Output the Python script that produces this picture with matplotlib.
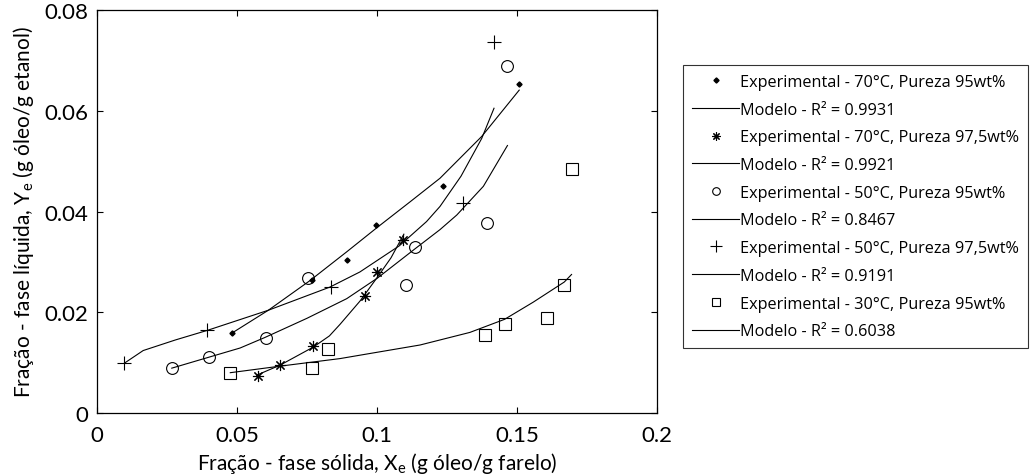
import numpy as np
import matplotlib.pyplot as plt
from matplotlib.lines import Line2D

plt.rcParams['font.family'] = ['Lato', 'DejaVu Sans']
plt.rcParams['mathtext.default'] = 'regular'

# experimental points
x70_95 = [0.0483, 0.0769, 0.0892, 0.0995, 0.1235, 0.1508]
y70_95 = [0.0159, 0.0265, 0.0303, 0.0374, 0.0450, 0.0653]

x70_975 = [0.0574, 0.0654, 0.0770, 0.0958, 0.1001, 0.1094]
y70_975 = [0.0074, 0.0096, 0.0132, 0.0232, 0.0280, 0.0343]

x50_95 = [0.0267, 0.0401, 0.0602, 0.0755, 0.1104, 0.1137, 0.1394, 0.1466]
y50_95 = [0.0089, 0.0112, 0.0149, 0.0267, 0.0255, 0.0330, 0.0378, 0.0689]

x50_975 = [0.0098, 0.0394, 0.0835, 0.1308, 0.1419]
y50_975 = [0.0099, 0.0165, 0.0251, 0.0417, 0.0736]

x30_95 = [0.0476, 0.0769, 0.0825, 0.1387, 0.1456, 0.1606, 0.1669, 0.1696]
y30_95 = [0.0080, 0.0089, 0.0127, 0.0155, 0.0177, 0.0189, 0.0255, 0.0484]

# model curves
mx70_95 = [0.0483, 0.0612, 0.0761, 0.0892, 0.1000, 0.1120, 0.1225, 0.1374, 0.1508]
my70_95 = [0.0159, 0.0204, 0.0263, 0.0320, 0.0368, 0.0420, 0.0466, 0.0549, 0.0641]

mx70_975 = [0.0570, 0.0654, 0.0773, 0.0830, 0.0868, 0.0939, 0.1002, 0.1050, 0.1096]
my70_975 = [0.0075, 0.0095, 0.0131, 0.0153, 0.0176, 0.0222, 0.0270, 0.0308, 0.0355]

mx50_95 = [0.0267, 0.0401, 0.0511, 0.0600, 0.0750, 0.0892, 0.1002, 0.1136, 0.1225, 0.1285, 0.1380, 0.1466]
my50_95 = [0.0089, 0.0111, 0.0129, 0.0150, 0.0188, 0.0227, 0.0268, 0.0326, 0.0364, 0.0393, 0.0450, 0.0531]

mx50_975 = [0.0098, 0.0165, 0.0280, 0.0394, 0.0612, 0.0832, 0.0939, 0.1080, 0.1177, 0.1225, 0.1300, 0.1374, 0.1418]
my50_975 = [0.0099, 0.0124, 0.0145, 0.0164, 0.0204, 0.0250, 0.0280, 0.0332, 0.0380, 0.0410, 0.0470, 0.0545, 0.0605]

mx30_95 = [0.0476, 0.0654, 0.0868, 0.0963, 0.1154, 0.1332, 0.1456, 0.1558, 0.1669, 0.1695]
my30_95 = [0.0080, 0.0093, 0.0108, 0.0117, 0.0135, 0.0160, 0.0186, 0.0220, 0.0260, 0.0275]

labels = ['Experimental - 70°C, Pureza 95wt%', 'Modelo - R² = 0.9931',
          'Experimental - 70°C, Pureza 97,5wt%', 'Modelo - R² = 0.9921',
          'Experimental - 50°C, Pureza 95wt%', 'Modelo - R² = 0.8467',
          'Experimental - 50°C, Pureza 97,5wt%', 'Modelo - R² = 0.9191',
          'Experimental - 30°C, Pureza 95wt%', 'Modelo - R² = 0.6038']

fig = plt.figure(figsize=(10.31, 4.77), dpi=100)
ax = fig.add_axes([0.0941, 0.1321, 0.5431, 0.8448])

lw = 0.8
mk = dict(color='k', linestyle='none', markerfacecolor='none', markeredgewidth=0.8)
ax.plot(x70_95, y70_95, marker='D', markersize=2.6, color='k', linestyle='none')
ax.plot(mx70_95, my70_95, 'k-', lw=lw)
ax.plot(x70_975, y70_975, marker=(8, 2, 0), markersize=8, **mk)
ax.plot(mx70_975, my70_975, 'k-', lw=lw)
ax.plot(x50_95, y50_95, marker='o', markersize=8.5, **mk)
ax.plot(mx50_95, my50_95, 'k-', lw=lw)
ax.plot(x50_975, y50_975, marker='+', markersize=10, **mk)
ax.plot(mx50_975, my50_975, 'k-', lw=lw)
ax.plot(x30_95, y30_95, marker='s', markersize=8.5, **mk)
ax.plot(mx30_95, my30_95, 'k-', lw=lw)

ax.set_xlim(0, 0.2)
ax.set_ylim(0, 0.08)
ax.set_xticks([0, 0.05, 0.1, 0.15, 0.2])
ax.set_xticklabels(['0', '0.05', '0.1', '0.15', '0.2'])
ax.set_yticks([0, 0.02, 0.04, 0.06, 0.08])
ax.set_yticklabels(['0', '0.02', '0.04', '0.06', '0.08'])
ax.tick_params(direction='in', top=True, right=True, length=4, width=0.8,
               labelsize=16)
ax.tick_params(axis='x', pad=9)
ax.tick_params(axis='y', pad=6)
for s in ax.spines.values():
    s.set_linewidth(0.9)

ax.set_xlabel('Fração - fase sólida, $\\mathregular{X_e}$ (g óleo/g farelo)', fontsize=15, labelpad=3)
ax.set_ylabel('Fração - fase líquida, $\\mathregular{Y_e}$ (g óleo/g etanol)', fontsize=15, labelpad=6)

leg_h = [Line2D([], [], marker='D', markersize=2.6, color='k', linestyle='none'),
         Line2D([], [], color='k', lw=lw),
         Line2D([], [], marker=(8, 2, 0), markersize=6, **mk),
         Line2D([], [], color='k', lw=lw),
         Line2D([], [], marker='o', markersize=5.5, **mk),
         Line2D([], [], color='k', lw=lw),
         Line2D([], [], marker='+', markersize=8, **mk),
         Line2D([], [], color='k', lw=lw),
         Line2D([], [], marker='s', markersize=6, **mk),
         Line2D([], [], color='k', lw=lw)]

leg = fig.legend(leg_h, labels, loc='upper left', bbox_to_anchor=(0.6625, 0.8616),
                 prop={'family': 'Open Sans', 'size': 11.7}, frameon=True, fancybox=False,
                 edgecolor='k', handlelength=2.9, handletextpad=0.05, borderpad=0.55,
                 borderaxespad=0, labelspacing=0.72)
leg.get_frame().set_linewidth(0.8)

fig.savefig('out.png', dpi=100)
